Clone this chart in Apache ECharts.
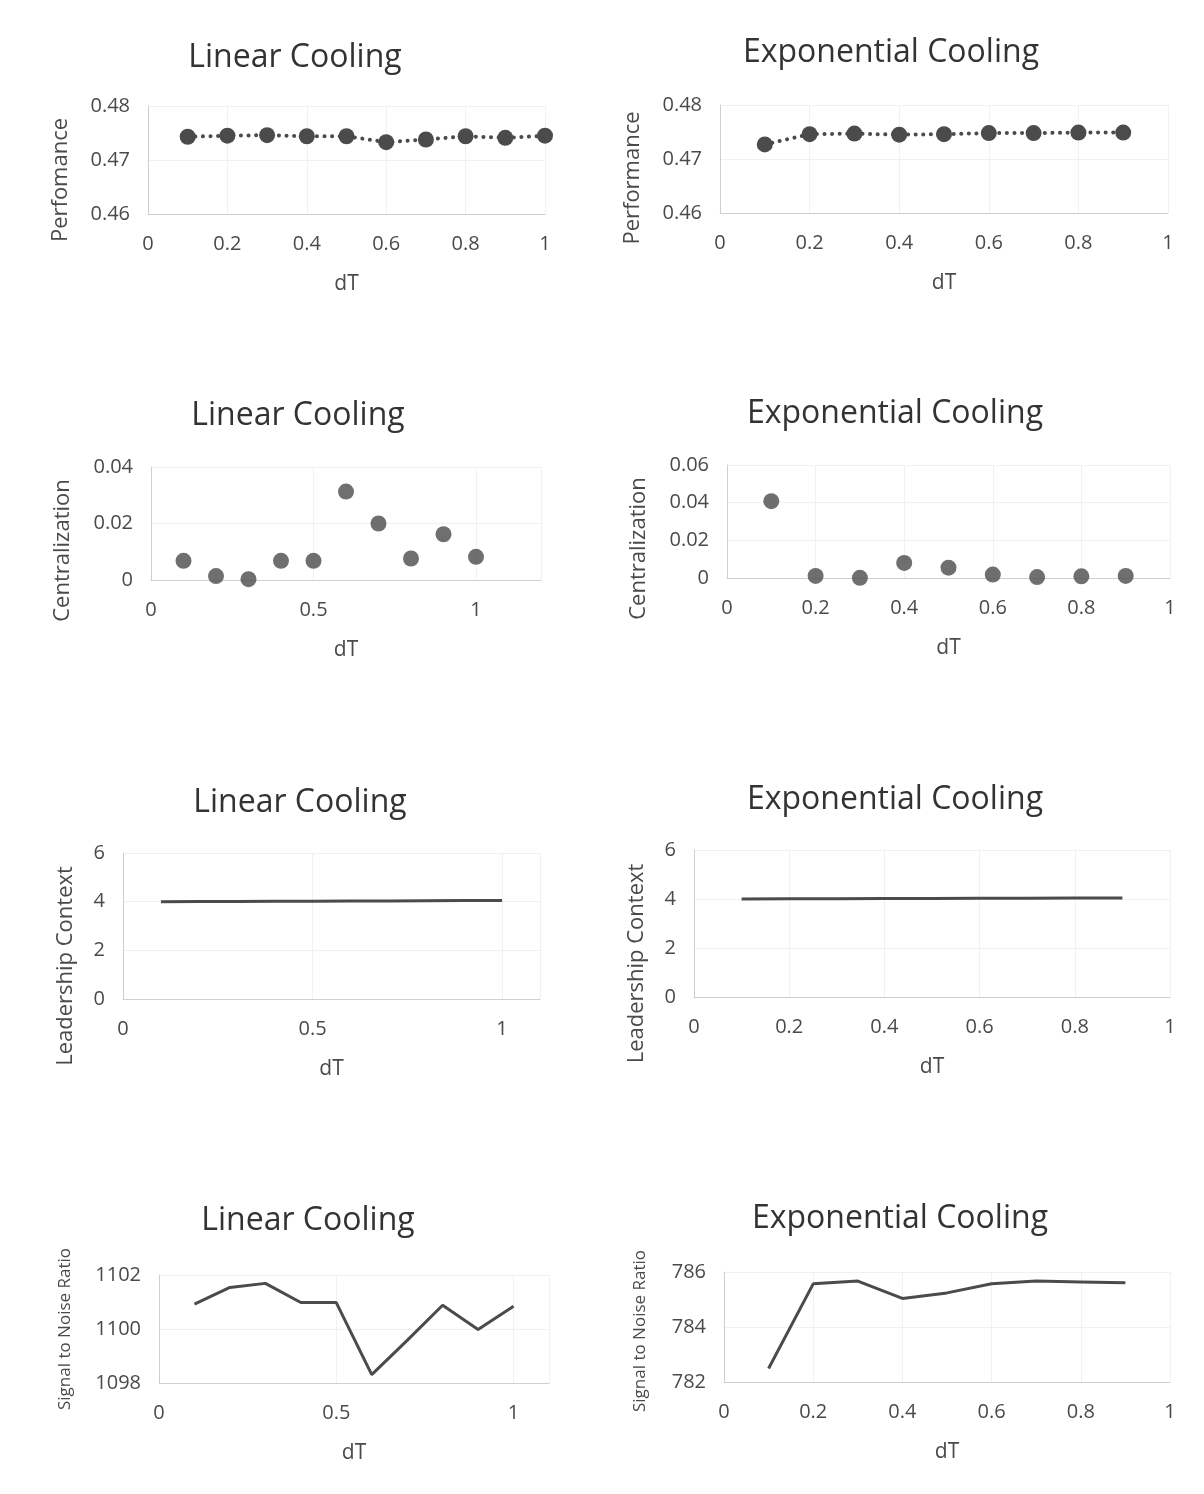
<!DOCTYPE html>
<html>
<head>
<meta charset="utf-8">
<title>Cooling schedules vs dT</title>
<script src="https://cdn.jsdelivr.net/npm/echarts@6/dist/echarts.min.js"></script>
<style>
  html, body { margin: 0; padding: 0; background: #fff; }
  #main { width: 1204px; height: 1494px; }
</style>
</head>
<body>
<div id="main"></div>
<script>
// x values (dT)
const dtLinear = [0.1, 0.2, 0.3, 0.4, 0.5, 0.6, 0.7, 0.8, 0.9, 1.0]
const dtExp = [0.1, 0.2, 0.3, 0.4, 0.5, 0.6, 0.7, 0.8, 0.9]

// performance
const perfLinear = [0.4743, 0.4745, 0.4746, 0.4744, 0.4744, 0.4733, 0.4738, 0.4744, 0.4741, 0.4745]
const perfExp = [0.4727, 0.4746, 0.4747, 0.4745, 0.4746, 0.4748, 0.4748, 0.4749, 0.4749]

// centralization
const centLinear = [0.0068, 0.0014, 0.0003, 0.0068, 0.0068, 0.0313, 0.0200, 0.0076, 0.0162, 0.0082]
const centExp = [0.0408, 0.0011, 0.0001, 0.0080, 0.0055, 0.0018, 0.0005, 0.0009, 0.0011]

// leadership context
const leadLinear = [4.00, 4.01, 4.01, 4.02, 4.02, 4.03, 4.03, 4.04, 4.05, 4.05]
const leadExp = [4.00, 4.01, 4.01, 4.02, 4.02, 4.03, 4.03, 4.04, 4.04]

// signal to noise ratio
const snrLinear = [1100.92, 1101.54, 1101.69, 1100.98, 1100.98, 1098.31, 1099.58, 1100.88, 1099.98, 1100.84]
const snrExp = [782.49, 785.57, 785.67, 785.04, 785.24, 785.57, 785.67, 785.64, 785.61]

const titles = ['Linear Cooling', 'Exponential Cooling']

const ink = '#4a4a4a'
const markColor = '#4b4b4b'
const fontFamily = '"Open Sans", "Noto Sans", sans-serif'

// one entry per panel: where it sits and how its axes look
// grid: [left, top, right, bottom]; yGap / yShift place the rotated axis title
const panels = [
  { title: titles[0], tx: 295, ty: 58, grid: [148, 106, 545, 214], x: [0, 1, 0.2], y: [0.46, 0.48, 0.01],
    yName: 'Perfomance', yFont: 22, yGap: 76, yShift: 20, xs: dtLinear, ys: perfLinear, kind: 'dotted' },
  { title: titles[1], tx: 891, ty: 53, grid: [720, 105, 1168, 213], x: [0, 1, 0.2], y: [0.46, 0.48, 0.01],
    yName: 'Performance', yFont: 22, yGap: 76, yShift: 19, xs: dtExp, ys: perfExp, kind: 'dotted' },
  { title: titles[0], tx: 298, ty: 416, grid: [151, 467, 541, 580], x: [0, 1.2, 0.5], y: [0, 0.04, 0.02],
    yName: 'Centralization', yFont: 22, yGap: 77, yShift: 27, xs: dtLinear, ys: centLinear, kind: 'scatter' },
  { title: titles[1], tx: 895, ty: 414, grid: [727, 465, 1170, 578], x: [0, 1, 0.2], y: [0, 0.06, 0.02],
    yName: 'Centralization', yFont: 22, yGap: 77, yShift: 27, xs: dtExp, ys: centExp, kind: 'scatter' },
  { title: titles[0], tx: 300, ty: 803, grid: [123, 853, 540, 999], x: [0, 1.1, 0.5], y: [0, 6, 2],
    yName: 'Leadership Context', yFont: 22, yGap: 46, yShift: 40, xs: dtLinear, ys: leadLinear, kind: 'line' },
  { title: titles[1], tx: 895, ty: 800, grid: [694, 850, 1170, 997], x: [0, 1, 0.2], y: [0, 6, 2],
    yName: 'Leadership Context', yFont: 22, yGap: 46, yShift: 40, xs: dtExp, ys: leadExp, kind: 'line' },
  { title: titles[0], tx: 308, ty: 1221, grid: [159, 1275, 549, 1383], x: [0, 1.1, 0.5], y: [1098, 1102, 2],
    yName: 'Signal to Noise Ratio', yFont: 17, yGap: 85, yShift: 0, xs: dtLinear, ys: snrLinear, kind: 'line' },
  { title: titles[1], tx: 900, ty: 1219, grid: [724, 1272, 1170, 1382], x: [0, 1, 0.2], y: [782, 786, 2],
    yName: 'Signal to Noise Ratio', yFont: 17, yGap: 75, yShift: 4, xs: dtExp, ys: snrExp, kind: 'line' }
]

const chart = echarts.init(document.getElementById('main'), null, { renderer: 'canvas' })

const option = {
  backgroundColor: '#fff',
  animation: false,
  textStyle: { fontFamily: fontFamily, color: ink },
  title: [],
  grid: [],
  xAxis: [],
  yAxis: [],
  series: []
}

const splitLine = { show: true, lineStyle: { color: '#f1f1f1', width: 1 } }
const fmt = v => String(+v.toFixed(2))

panels.forEach((p, i) => {
  const [l, t, r, b] = p.grid
  option.title.push({
    text: p.title,
    left: p.tx,
    top: p.ty,
    padding: 0,
    textAlign: 'center',
    textVerticalAlign: 'middle',
    textStyle: { fontSize: 32, fontWeight: 'normal', color: '#333', fontFamily: fontFamily }
  })
  option.grid.push({ left: l, top: t, width: r - l, height: b - t, containLabel: false })
  option.xAxis.push({
    gridIndex: i,
    type: 'value',
    min: p.x[0],
    max: p.x[1],
    interval: p.x[2],
    name: 'dT',
    nameLocation: 'middle',
    nameGap: 60,
    nameTextStyle: { fontSize: 21, color: ink, fontFamily: fontFamily },
    axisLine: { show: true, onZero: false, lineStyle: { color: '#cfcfcf' } },
    axisTick: { show: false },
    axisLabel: {
      color: ink, fontSize: 20, margin: 20, fontFamily: fontFamily,
      showMaxLabel: p.x[1] === 1,
      formatter: fmt
    },
    splitLine: splitLine
  })
  option.yAxis.push({
    gridIndex: i,
    type: 'value',
    min: p.y[0],
    max: p.y[1],
    interval: p.y[2],
    name: p.yName,
    nameLocation: 'middle',
    nameGap: p.yGap,
    nameTextStyle: { fontSize: p.yFont, color: ink, fontFamily: fontFamily, padding: [0, p.yShift * 2, 0, 0] },
    axisLine: { show: true, lineStyle: { color: '#cfcfcf' } },
    axisTick: { show: false },
    axisLabel: { color: ink, fontSize: 20, margin: 18, fontFamily: fontFamily, formatter: fmt },
    splitLine: splitLine
  })

  const pts = p.xs.map((x, k) => [x, p.ys[k]])
  if (p.kind === 'scatter') {
    option.series.push({
      type: 'scatter', xAxisIndex: i, yAxisIndex: i, data: pts,
      symbolSize: 16, itemStyle: { color: markColor }
    })
  } else if (p.kind === 'dotted') {
    // round dots between the markers
    option.series.push({
      type: 'line', xAxisIndex: i, yAxisIndex: i, data: pts,
      symbol: 'circle', symbolSize: 16, showSymbol: true,
      itemStyle: { color: markColor },
      lineStyle: { color: markColor, width: 4, type: [0.1, 7.5], cap: 'round' }
    })
  } else {
    option.series.push({
      type: 'line', xAxisIndex: i, yAxisIndex: i, data: pts,
      symbol: 'none',
      lineStyle: { color: markColor, width: 3 }
    })
  }
})

chart.setOption(option)
</script>
</body>
</html>
